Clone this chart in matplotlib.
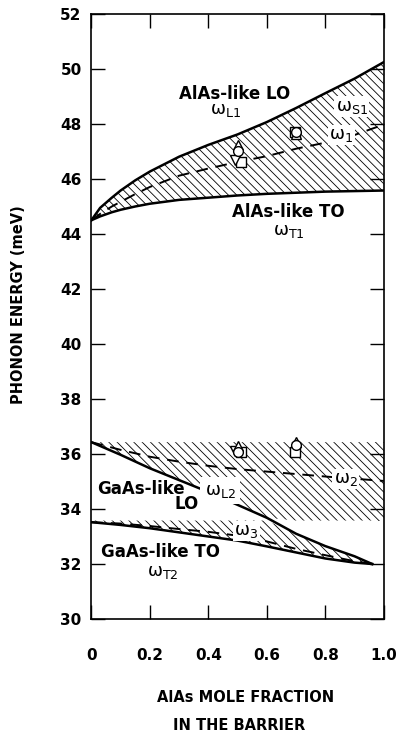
import matplotlib
matplotlib.use("Agg")
from matplotlib import pyplot as plt
import numpy as np

plt.rcParams['font.family'] = ['DejaVu Sans']
plt.rcParams['mathtext.fontset'] = 'dejavusans'
plt.rcParams['hatch.linewidth'] = 0.6

# AlAs-like branch (x = AlAs mole fraction)
x_alas = [0, 0.03, 0.07, 0.1, 0.15, 0.2, 0.3, 0.4, 0.5, 0.6, 0.7, 0.8, 0.9, 1.0]
w_L1 = [44.5, 44.95, 45.32, 45.58, 45.95, 46.27, 46.81, 47.24, 47.62, 48.07, 48.58, 49.12, 49.65, 50.25]
w_T1 = [44.5, 44.64, 44.79, 44.88, 45.0, 45.1, 45.24, 45.32, 45.4, 45.46, 45.5, 45.54, 45.56, 45.58]
w_1 = [44.5, 44.73, 45.0, 45.17, 45.45, 45.71, 46.12, 46.38, 46.62, 46.83, 47.1, 47.32, 47.6, 47.98]

# GaAs-like branch
x_gaas = [0, 0.1, 0.2, 0.3, 0.4, 0.5, 0.6, 0.7, 0.8, 0.9, 0.96]
w_L2 = [36.43, 35.97, 35.48, 35.05, 34.62, 34.15, 33.68, 33.1, 32.65, 32.28, 32.0]
w_T2 = [33.52, 33.42, 33.3, 33.15, 33.0, 32.85, 32.64, 32.42, 32.2, 32.05, 32.0]
w_3 = [33.52, 33.47, 33.38, 33.27, 33.17, 33.03, 32.82, 32.55, 32.32, 32.1, 32.0]

x_w2 = [0, 0.1, 0.2, 0.3, 0.4, 0.5, 0.6, 0.7, 0.8, 0.9, 1.0]
w_2 = [36.43, 36.15, 35.9, 35.72, 35.57, 35.45, 35.36, 35.27, 35.18, 35.1, 35.02]

band_top = 36.43
band_bot = 33.58

# measured points
x_up = [0.5, 0.7]
up_al = [47.25, 47.65]
up_ga = [36.3, 36.45]
x_circ = [0.5, 0.7]
circ_al = [47.0, 47.7]
circ_ga = [36.06, 36.33]
x_sq = [0.51, 0.695]
sq_al = [46.6, 47.7]
sq_ga = [36.06, 36.06]
x_dn = [0.49]
dn_al = [46.7]
dn_ga = [36.1]

fig = plt.figure(figsize=(3.99, 7.43), dpi=100)
ax = fig.add_axes([0.229, 0.1669, 0.733, 0.8143])

# hatched regions
h = '\\\\\\\\'
ax.fill_between(x_alas, w_T1, w_L1, facecolor='none', edgecolor='k', hatch=h, lw=0)
lo = np.array(w_L2)
ax.fill_between(x_gaas, w_T2, np.minimum(lo, band_bot), facecolor='none', edgecolor='k', hatch=h, lw=0)
ax.fill_between(x_gaas, np.maximum(lo, band_bot), band_top, facecolor='none', edgecolor='k', hatch=h, lw=0)
ax.fill_between([x_gaas[-1], 1.0], band_bot, band_top, facecolor='none', edgecolor='k', hatch=h, lw=0)

# curves
ax.plot(x_alas, w_L1, 'k-', lw=1.8)
ax.plot(x_alas, w_T1, 'k-', lw=1.8)
ax.plot(x_alas, w_1, 'k--', lw=1.4, dashes=(6, 4))
ax.plot(x_gaas, w_L2, 'k-', lw=1.8)
ax.plot(x_gaas, w_T2, 'k-', lw=1.8)
ax.plot(x_gaas, w_3, 'k--', lw=1.4, dashes=(6, 4))
ax.plot(x_w2, w_2, 'k--', lw=1.4, dashes=(6, 4))

mk = dict(ls='none', mfc='white', mec='k', mew=1.0, ms=7, zorder=5)
ax.plot(x_sq, sq_al, 's', **mk)
ax.plot(x_dn, dn_al, 'v', **mk)
ax.plot(x_up, up_al, '^', **mk)
ax.plot(x_circ, circ_al, 'o', **mk)
ax.plot(x_sq, sq_ga, 's', **mk)
ax.plot(x_dn, dn_ga, 'v', **mk)
ax.plot(x_up, up_ga, '^', **mk)
ax.plot(x_circ, circ_ga, 'o', **mk)

# labels
bold = dict(fontsize=12, fontweight='bold', ha='center', va='center')
wbox = dict(facecolor='white', edgecolor='none', pad=1)
ax.text(0.49, 49.1, 'AlAs-like LO', **bold)
ax.text(0.675, 44.8, 'AlAs-like TO', **bold)
ax.text(0.17, 34.73, 'GaAs-like', **bold)
ax.text(0.325, 34.18, 'LO', **bold)
ax.text(0.235, 32.43, 'GaAs-like TO', **bold)

om = dict(fontsize=13, ha='center', va='center')
ax.text(0.46, 48.5, 'ω$_{\\rm L1}$', **om)
ax.text(0.675, 44.12, 'ω$_{\\rm T1}$', **om)
ax.text(0.89, 48.63, 'ω$_{\\rm S1}$', **om, bbox=wbox)
ax.text(0.855, 47.6, 'ω$_{1}$', **om, bbox=wbox)
ax.text(0.44, 34.67, 'ω$_{\\rm L2}$', **om, bbox=dict(facecolor='white', edgecolor='none', pad=3))
ax.text(0.87, 35.09, 'ω$_{2}$', **om, bbox=wbox)
ax.text(0.53, 33.2, 'ω$_{3}$', **om, bbox=wbox)
ax.text(0.245, 31.7, 'ω$_{\\rm T2}$', **om)

ax.set_xlim(0, 1.0)
ax.set_ylim(30, 52)
ax.set_xticks([0, 0.2, 0.4, 0.6, 0.8, 1.0])
ax.set_xticklabels(['0', '0.2', '0.4', '0.6', '0.8', '1.0'])
ax.set_yticks(range(30, 53, 2))
ax.tick_params(direction='in', length=10, width=1.0, top=True, right=True,
               labelsize=11)
ax.tick_params(axis='x', pad=21)
ax.tick_params(axis='y', pad=7)
for lab in ax.get_xticklabels() + ax.get_yticklabels():
    lab.set_fontweight('bold')
for s in ax.spines.values():
    s.set_linewidth(1.2)

ax.set_ylabel('PHONON ENERGY (meV)', fontsize=10.5, fontweight='bold')
ax.yaxis.set_label_coords(-0.225, 0.52)

fig.text(246 / 399, 1 - 698 / 743, 'AlAs MOLE FRACTION', fontsize=10.5,
         fontweight='bold', ha='center', va='center')
fig.text(239 / 399, 1 - 725 / 743, 'IN THE BARRIER', fontsize=10.5,
         fontweight='bold', ha='center', va='center')

fig.savefig('out.png', dpi=100)
